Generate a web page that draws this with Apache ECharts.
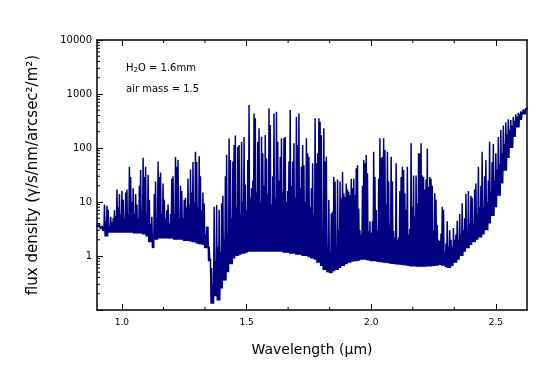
<!DOCTYPE html>
<html>
<head>
<meta charset="utf-8">
<script src="https://cdn.jsdelivr.net/npm/echarts@6/dist/echarts.min.js"></script>
<style>html,body{margin:0;padding:0;background:#fff}#c{width:560px;height:384px}</style>
</head>
<body>
<div id="c"></div>
<script>
// Wavelength sampling of the line-flux readings (micron)
const WL_START = 0.9;
const WL_STEP = 0.005;
// Continuum (lower envelope) readings, one per 0.0125 micron from 0.900 to 2.625
const CONT_STEP = 0.0125;

// Spectrum readings (photons/s/nm/arcsec^2/m^2), one per WL_STEP from 0.900 to 2.625
const lineFlux = [
  3.8, 3.5, 3.9, 3.4, 3.6, 3.5, 9, 4.5, 8.5, 7.2,
  3.5, 5.3, 4.2, 5, 7, 5.5, 17, 8, 14, 6,
  16, 11, 5, 15, 17, 6, 45, 29, 10, 18,
  6, 14, 9, 5, 20, 39, 7, 66, 29, 45,
  6, 32, 11, 4, 5.3, 1.6, 14, 24, 5, 56,
  29, 35, 6, 22, 11, 5, 7, 9, 4, 6,
  27, 30, 6, 68, 45, 60, 5, 20, 16, 5,
  11, 12, 8, 27, 9, 40, 15, 55, 10, 85,
  55, 8, 70, 30, 7, 15, 9.4, 2.5, 3.5, 3.5,
  1.5, 0.9, 0.6, 0.3, 8.2, 0.8, 8.8, 1.5, 7.2, 1.2,
  9.5, 13, 2, 30, 75, 2.5, 150, 60, 5, 56,
  114, 170, 8, 106, 114, 6, 131, 10, 160, 21,
  7, 60, 626, 12, 18, 25, 437, 354, 15, 131,
  231, 10, 162, 80, 20, 174, 64, 14, 542, 266,
  9, 30, 437, 12, 470, 131, 25, 69, 151, 15,
  151, 160, 10, 16, 56, 505, 20, 56, 122, 12,
  380, 114, 437, 18, 45, 114, 48, 10, 151, 80,
  69, 8, 18, 52, 6, 354, 52, 80, 354, 307,
  174, 3, 231, 56, 69, 1.5, 10.9, 1.2, 6.2, 6.6,
  29, 24, 1.5, 26, 3.0, 24, 11.7, 36, 14.5, 12.5,
  22, 17, 15.5, 13.5, 27, 18, 27, 13.5, 42, 48,
  7.6, 3, 2.5, 20, 60, 52, 74, 34, 2.9, 4.4,
  2.7, 4.4, 85, 29, 7.1, 3, 27, 151, 65, 69,
  151, 92, 9, 85, 24, 3.8, 69, 24, 2.9, 2.2,
  52, 2, 2.2, 16, 29, 45, 39, 14.5, 7.1, 45,
  2.5, 3.2, 122, 8.2, 31, 5.4, 31, 9.5, 80, 80,
  122, 31, 29, 17, 26, 98, 19, 29, 27, 20,
  3, 14.5, 11, 3.8, 2, 1.9, 2.6, 8.2, 7.1, 1.2,
  1.7, 4.4, 1.5, 3.0, 2.0, 1.5, 3.3, 2.0, 2.5, 4.5,
  2.0, 6, 2.5, 9.5, 3, 5, 14, 3, 16, 4,
  13, 12, 4, 17, 22, 6, 45, 8, 20, 85,
  8, 30, 60, 10, 25, 130, 15, 55, 120, 25,
  80, 40, 160, 50, 215, 80, 260, 120, 300, 180,
  340, 220, 330, 260, 380, 320, 420, 380, 450, 430,
  480, 470, 520, 510, 550, 560
];

const continuumFlux = [
  3.4, 3.2, 2.9, 2.3, 2.7, 2.7, 2.7, 2.7,
  2.7, 2.7, 2.7, 2.7, 2.6, 2.6, 2.6, 2.5,
  2.3, 1.8, 1.4, 2.0, 2.1, 2.1, 2.1, 2.1,
  2.1, 2.0, 2.0, 2.0, 1.9, 1.9, 1.85, 1.8,
  1.7, 1.65, 1.6, 1.4, 0.8, 0.13, 0.18, 0.15,
  0.25, 0.35, 0.5, 0.7, 0.9, 1.0, 1.05, 1.1,
  1.15,
  1.2, 1.2, 1.2, 1.2, 1.2, 1.2, 1.2, 1.2, 1.2, 1.2, 1.2,
  1.15, 1.15, 1.1, 1.1, 1.05, 1.05, 1.0, 1.0,
  0.95, 0.9, 0.85, 0.75, 0.65, 0.55, 0.5, 0.48,
  0.52, 0.55, 0.6, 0.65, 0.7, 0.75, 0.78, 0.8,
  0.82, 0.85, 0.85, 0.83, 0.8, 0.8, 0.78, 0.77,
  0.75, 0.74, 0.72, 0.71, 0.7, 0.69, 0.68, 0.67,
  0.65, 0.64, 0.64, 0.63, 0.63, 0.63, 0.64, 0.64,
  0.65, 0.66, 0.68, 0.66, 0.62, 0.6, 0.65, 0.75,
  0.85, 1.0, 1.2, 1.4, 1.6, 1.8, 2.0, 2.2,
  2.5, 3.0, 4.0, 5.5, 8, 13, 22, 38,
  65, 100, 160, 240, 330, 420, 500
];

const xMajorTicks = [1.0, 1.5, 2.0, 2.5];
const xMinorTicks = [1.1667, 1.3333, 1.6667, 1.8333, 2.1667, 2.3333];
const yMinorTicks = [
  0.2, 0.3, 0.4, 0.5, 0.6, 0.7, 0.8, 0.9,
  2, 3, 4, 5, 6, 7, 8, 9,
  20, 30, 40, 50, 60, 70, 80, 90,
  200, 300, 400, 500, 600, 700, 800, 900,
  2000, 3000, 4000, 5000, 6000, 7000, 8000, 9000
];
const X_MIN = 0.9, X_MAX = 2.625, Y_MIN = 0.1, Y_MAX = 10000;

// Build the line data: each reading followed by the continuum reading nearest to the gap
const spectrum = [];
for (let i = 0; i < lineFlux.length; i++) {
  const wl = WL_START + WL_STEP * i;
  spectrum.push([wl, lineFlux[i]]);
  if (i < lineFlux.length - 1) {
    const wb = wl + WL_STEP / 2;
    const k = Math.min(continuumFlux.length - 1, Math.round((wb - WL_START) / CONT_STEP));
    spectrum.push([wb, continuumFlux[k]]);
  }
}

const FONT = 'DejaVu Sans';
const chart = echarts.init(document.getElementById('c'), null, {renderer: 'canvas'});
chart.setOption({
  animation: false,
  backgroundColor: '#fff',
  grid: {left: 97, right: 33, top: 40, bottom: 74, containLabel: false},
  xAxis: [
    {
      type: 'value', position: 'bottom', min: X_MIN, max: X_MAX,
      name: 'Wavelength (μm)', nameLocation: 'middle', nameGap: 33,
      nameTextStyle: {fontFamily: FONT, fontSize: 14, color: '#000'},
      axisLine: {show: true, lineStyle: {color: '#000', width: 1.5}},
      axisTick: {show: true, inside: true, length: 6, customValues: xMajorTicks, lineStyle: {color: '#000', width: 1}},
      axisLabel: {show: true, customValues: xMajorTicks, margin: 8, fontFamily: FONT, fontSize: 9, color: '#000',
        formatter: v => Number(v).toFixed(1)},
      splitLine: {show: false}
    },
    {
      type: 'value', position: 'top', min: X_MIN, max: X_MAX,
      axisLine: {show: true, lineStyle: {color: '#000', width: 1.5}},
      axisTick: {show: true, inside: true, length: 6, customValues: xMajorTicks, lineStyle: {color: '#000', width: 1}},
      axisLabel: {show: false},
      splitLine: {show: false}
    }
  ],
  yAxis: [
    {
      type: 'log', logBase: 10, position: 'left', min: Y_MIN, max: Y_MAX,
      name: 'flux density (γ/s/nm/arcsec²/m²)', nameLocation: 'middle', nameGap: 56,
      nameTextStyle: {fontFamily: FONT, fontSize: 15, color: '#000'},
      axisLine: {show: true, lineStyle: {color: '#000', width: 1.5}},
      axisTick: {show: true, inside: true, length: 6, lineStyle: {color: '#000', width: 1}},
      axisLabel: {show: true, margin: 5, fontFamily: FONT, fontSize: 10, color: '#000',
        formatter: v => (v >= 1 ? String(Math.round(v)) : '')},
      splitLine: {show: false},
      minorTick: {show: false}
    },
    {
      type: 'log', logBase: 10, position: 'right', min: Y_MIN, max: Y_MAX,
      axisLine: {show: true, lineStyle: {color: '#000', width: 1.5}},
      axisTick: {show: false}, axisLabel: {show: false}, splitLine: {show: false}
    }
  ],
  graphic: [
    {type: 'text', left: 126, top: 63, silent: true,
      style: {text: 'H{s|2}O = 1.6mm', fontFamily: FONT, fontSize: 10, fill: '#000',
        rich: {s: {fontFamily: FONT, fontSize: 7, fill: '#000', padding: [5, 0, 0, 0]}}}},
    {type: 'text', left: 126, top: 84, silent: true,
      style: {text: 'air mass = 1.5', fontFamily: FONT, fontSize: 10, fill: '#000'}}
  ],
  series: [
    {
      type: 'line', xAxisIndex: 0, yAxisIndex: 0, data: spectrum,
      showSymbol: false, symbol: 'none', sampling: false, silent: true,
      lineStyle: {color: '#000080', width: 1.5}, itemStyle: {color: '#000080'}, z: 2
    },
    {
      type: 'custom', xAxisIndex: 0, yAxisIndex: 0, silent: true, clip: false, z: 5,
      data: yMinorTicks.map(v => [X_MIN, v]),
      renderItem: (params, api) => {
        const p = api.coord([api.value(0), api.value(1)]);
        return {type: 'line', shape: {x1: p[0], y1: p[1], x2: p[0] + 3, y2: p[1]},
          style: {stroke: '#000', lineWidth: 1}};
      }
    },
    {
      type: 'custom', xAxisIndex: 0, yAxisIndex: 0, silent: true, clip: false, z: 5,
      data: xMinorTicks.map(v => [v, Y_MIN]),
      renderItem: (params, api) => {
        const b = api.coord([api.value(0), Y_MIN]);
        const t = api.coord([api.value(0), Y_MAX]);
        return {type: 'group', children: [
          {type: 'line', shape: {x1: b[0], y1: b[1], x2: b[0], y2: b[1] - 3}, style: {stroke: '#000', lineWidth: 1}},
          {type: 'line', shape: {x1: t[0], y1: t[1], x2: t[0], y2: t[1] + 3}, style: {stroke: '#000', lineWidth: 1}}
        ]};
      }
    }
  ]
});
</script>
</body>
</html>
